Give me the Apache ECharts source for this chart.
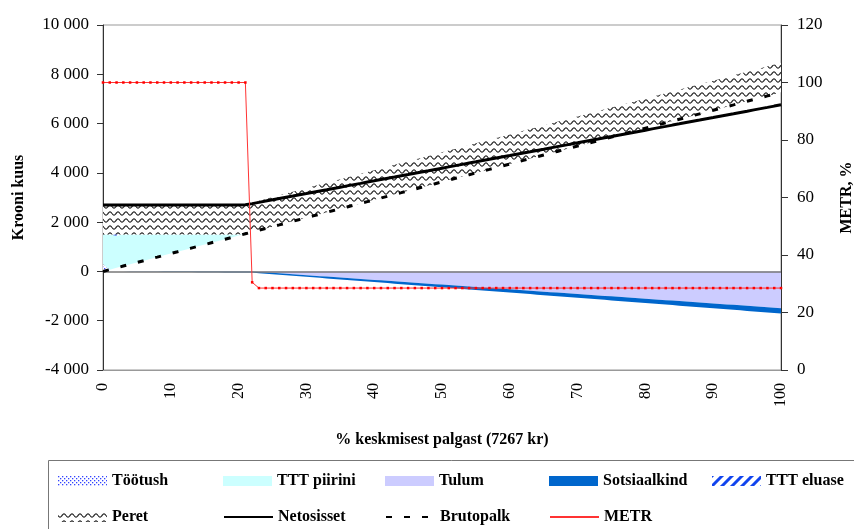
<!DOCTYPE html>
<html><head><meta charset="utf-8">
<script src="https://cdn.jsdelivr.net/npm/echarts@6/dist/echarts.min.js"></script>
<style>html,body{margin:0;padding:0;background:#fff}#c{width:854px;height:529px}</style>
</head><body><div id="c"></div>
<script>
// ---- data ----
const categories = ['0','1','2','3','4','5','6','7','8','9','10','11','12','13','14','15','16','17','18','19','20','21','22','23','24','25','26','27','28','29','30','31','32','33','34','35','36','37','38','39','40','41','42','43','44','45','46','47','48','49','50','51','52','53','54','55','56','57','58','59','60','61','62','63','64','65','66','67','68','69','70','71','72','73','74','75','76','77','78','79','80','81','82','83','84','85','86','87','88','89','90','91','92','93','94','95','96','97','98','99','100'];
const brutopalk = [0,73,145,218,291,363,436,509,581,654,727,799,872,945,1017,1090,1163,1235,1308,1381,1453,1526,1599,1671,1744,1817,1889,1962,2035,2107,2180,2253,2325,2398,2471,2543,2616,2689,2761,2834,2907,2979,3052,3125,3197,3270,3343,3415,3488,3561,3634,3706,3779,3852,3924,3997,4070,4142,4215,4288,4360,4433,4506,4578,4651,4724,4796,4869,4942,5014,5087,5160,5232,5305,5378,5450,5523,5596,5668,5741,5814,5886,5959,6032,6104,6177,6250,6322,6395,6468,6540,6613,6686,6758,6831,6904,6976,7049,7122,7194,7267];
const tootush = [300,0,0,0,0,0,0,0,0,0,0,0,0,0,0,0,0,0,0,0,0,0,0,0,0,0,0,0,0,0,0,0,0,0,0,0,0,0,0,0,0,0,0,0,0,0,0,0,0,0,0,0,0,0,0,0,0,0,0,0,0,0,0,0,0,0,0,0,0,0,0,0,0,0,0,0,0,0,0,0,0,0,0,0,0,0,0,0,0,0,0,0,0,0,0,0,0,0,0,0,0];
const tttPiirini = [1200,1427,1305,1282,1209,1137,1064,991,919,846,773,701,628,555,483,410,337,265,192,119,47,0,0,0,0,0,0,0,0,0,0,0,0,0,0,0,0,0,0,0,0,0,0,0,0,0,0,0,0,0,0,0,0,0,0,0,0,0,0,0,0,0,0,0,0,0,0,0,0,0,0,0,0,0,0,0,0,0,0,0,0,0,0,0,0,0,0,0,0,0,0,0,0,0,0,0,0,0,0,0,0];
const tttEluase = [0,0,50,0,0,0,0,0,0,0,0,0,0,0,0,0,0,0,0,0,0,0,0,0,0,0,0,0,0,0,0,0,0,0,0,0,0,0,0,0,0,0,0,0,0,0,0,0,0,0,0,0,0,0,0,0,0,0,0,0,0,0,0,0,0,0,0,0,0,0,0,0,0,0,0,0,0,0,0,0,0,0,0,0,0,0,0,0,0,0,0,0,0,0,0,0,0,0,0,0,0];
const peret = [1200,1200,1200,1200,1200,1200,1200,1200,1200,1200,1200,1200,1200,1200,1200,1200,1200,1200,1200,1200,1200,1200,1200,1200,1200,1200,1200,1200,1200,1200,1200,1200,1200,1200,1200,1200,1200,1200,1200,1200,1200,1200,1200,1200,1200,1200,1200,1200,1200,1200,1200,1200,1200,1200,1200,1200,1200,1200,1200,1200,1200,1200,1200,1200,1200,1200,1200,1200,1200,1200,1200,1200,1200,1200,1200,1200,1200,1200,1200,1200,1200,1200,1200,1200,1200,1200,1200,1200,1200,1200,1200,1200,1200,1200,1200,1200,1200,1200,1200,1200,1200];
const tulum = [0,0,0,0,0,0,0,0,0,0,0,0,0,0,0,0,0,0,0,0,0,0,0,-19,-38,-57,-76,-96,-115,-134,-153,-172,-191,-210,-229,-248,-267,-287,-306,-325,-344,-363,-382,-401,-420,-439,-458,-478,-497,-516,-535,-554,-573,-592,-611,-630,-649,-669,-688,-707,-726,-745,-764,-783,-802,-821,-840,-860,-879,-898,-917,-936,-955,-974,-993,-1012,-1031,-1051,-1070,-1089,-1108,-1127,-1146,-1165,-1184,-1203,-1222,-1242,-1261,-1280,-1299,-1318,-1337,-1356,-1375,-1394,-1413,-1433,-1452,-1471,-1490];
const sotsiaalkind = [0,-2,-4,-7,-9,-11,-13,-15,-17,-20,-22,-24,-26,-28,-31,-33,-35,-37,-39,-41,-44,-46,-48,-50,-52,-55,-57,-59,-61,-63,-65,-68,-70,-72,-74,-76,-78,-81,-83,-85,-87,-89,-92,-94,-96,-98,-100,-102,-105,-107,-109,-111,-113,-116,-118,-120,-122,-124,-126,-129,-131,-133,-135,-137,-140,-142,-144,-146,-148,-150,-153,-155,-157,-159,-161,-164,-166,-168,-170,-172,-174,-177,-179,-181,-183,-185,-188,-190,-192,-194,-196,-198,-201,-203,-205,-207,-209,-211,-214,-216,-218];
const netosisset = [2700,2700,2700,2700,2700,2700,2700,2700,2700,2700,2700,2700,2700,2700,2700,2700,2700,2700,2700,2700,2700,2705,2751,2802,2854,2905,2957,3008,3059,3111,3162,3214,3265,3316,3368,3419,3471,3522,3573,3625,3676,3728,3779,3830,3882,3933,3985,4036,4087,4139,4190,4242,4293,4344,4396,4447,4499,4550,4601,4653,4704,4756,4807,4858,4910,4961,5013,5064,5115,5167,5218,5270,5321,5372,5424,5475,5527,5578,5629,5681,5732,5784,5835,5886,5938,5989,6041,6092,6143,6195,6246,6298,6349,6400,6452,6503,6555,6606,6657,6709,6760];
const metr = [100,100,100,100,100,100,100,100,100,100,100,100,100,100,100,100,100,100,100,100,100,100,30.5,28.5,28.5,28.5,28.5,28.5,28.5,28.5,28.5,28.5,28.5,28.5,28.5,28.5,28.5,28.5,28.5,28.5,28.5,28.5,28.5,28.5,28.5,28.5,28.5,28.5,28.5,28.5,28.5,28.5,28.5,28.5,28.5,28.5,28.5,28.5,28.5,28.5,28.5,28.5,28.5,28.5,28.5,28.5,28.5,28.5,28.5,28.5,28.5,28.5,28.5,28.5,28.5,28.5,28.5,28.5,28.5,28.5,28.5,28.5,28.5,28.5,28.5,28.5,28.5,28.5,28.5,28.5,28.5,28.5,28.5,28.5,28.5,28.5,28.5,28.5,28.5,28.5,28.5];
const leftTicks = {min:-4000, max:10000, interval:2000};
const rightTicks = {min:0, max:120, interval:20};

// ---- fill patterns ----
function pat(w,h,draw){const c=document.createElement('canvas');c.width=w;c.height=h;const g=c.getContext('2d');g.fillStyle='#fff';g.fillRect(0,0,w,h);draw(g);return {image:c,repeat:'repeat'};}
const wavy = pat(8,7,g=>{g.strokeStyle='#222';g.lineWidth=1.2;g.beginPath();for(let x=0;x<=8;x+=0.5){const y=3.5+1.6*Math.sin(2*Math.PI*x/8);if(x===0)g.moveTo(x,y);else g.lineTo(x,y);}g.stroke();});
const dots = pat(4,4,g=>{g.fillStyle='#3344ff';g.fillRect(0,0,1.3,1.3);g.fillRect(2,2,1.3,1.3);});
const stripes = pat(10,10,g=>{g.strokeStyle='#1144ee';g.lineWidth=3;g.beginPath();g.moveTo(-2,12);g.lineTo(12,-2);g.moveTo(-7,7);g.lineTo(7,-7);g.moveTo(3,17);g.lineTo(17,3);g.stroke();});

const F = 'Liberation Serif';
function area(name, data, stack, color){
  return {name, type:'line', data, stack, symbol:'none', showSymbol:false, lineStyle:{width:0}, itemStyle:{color}, areaStyle:{color, opacity:1}, emphasis:{disabled:true}, z:2};
}
const chart = echarts.init(document.getElementById('c'));
const legendText = {fontFamily:F, fontSize:16, fontWeight:'bold', color:'#000'};
function leg(left, top, item){
  return {left, top, orient:'horizontal', itemWidth:49, itemHeight:10, itemGap:0, padding:0, textStyle:legendText, selectedMode:false, data:[item]};
}
chart.setOption({
  animation:false,
  backgroundColor:'#fff',
  grid:{left:103, right:73, top:25, bottom:159, outerBoundsMode:'none', containLabel:false, show:true, borderColor:'#999', borderWidth:1},
  xAxis:{type:'category', data:categories, boundaryGap:false,
    name:'% keskmisest palgast (7267 kr)', nameLocation:'middle', nameGap:62,
    nameTextStyle:{fontFamily:F, fontSize:16, fontWeight:'bold', color:'#000'},
    axisLine:{onZero:false, lineStyle:{color:'#999'}}, axisTick:{show:false},
    axisLabel:{rotate:90, margin:13, interval:9, fontFamily:F, fontSize:16, color:'#000'}, splitLine:{show:false}},
  yAxis:[
    {type:'value', min:leftTicks.min, max:leftTicks.max, interval:leftTicks.interval, position:'left',
     name:'Krooni kuus', nameLocation:'middle', nameGap:76, nameRotate:90,
     nameTextStyle:{fontFamily:F, fontSize:16, fontWeight:'bold', color:'#000'},
     axisLine:{show:true, lineStyle:{color:'#333'}}, axisTick:{show:true, length:6, lineStyle:{color:'#333'}},
     axisLabel:{margin:14, fontFamily:F, fontSize:17, color:'#000', formatter:v=>{const s=Math.abs(v).toString().replace(/\B(?=(\d{3})+(?!\d))/g,' ');return (v<0?'-':'')+s;}},
     splitLine:{show:false}},
    {type:'value', min:rightTicks.min, max:rightTicks.max, interval:rightTicks.interval, position:'right',
     name:'METR, %', nameLocation:'middle', nameGap:58, nameRotate:90,
     nameTextStyle:{fontFamily:F, fontSize:16, fontWeight:'bold', color:'#000'},
     axisLine:{show:true, lineStyle:{color:'#333'}}, axisTick:{show:true, length:7, lineStyle:{color:'#333'}},
     axisLabel:{margin:16, fontFamily:F, fontSize:17, color:'#000'}, splitLine:{show:false}}
  ],
  legend:[
    leg(58, 473, {name:'Töötush', icon:'rect'}),
    leg(58, 509, {name:'Peret', icon:'rect'}),
    leg(223, 473, {name:'TTT piirini', icon:'rect'}),
    leg(223, 509, {name:'Netosisset', itemStyle:{opacity:0}}),
    leg(385, 473, {name:'Tulum', icon:'rect'}),
    leg(385, 509, {name:'Brutopalk', itemStyle:{opacity:0}}),
    leg(549, 473, {name:'Sotsiaalkind', icon:'rect'}),
    leg(549, 509, {name:'METR', itemStyle:{opacity:0}}),
    leg(712, 473, {name:'TTT eluase', icon:'rect'})
  ],
  graphic:[{type:'rect', shape:{x:48.5, y:460.5, width:820, height:80}, style:{fill:null, stroke:'#777', lineWidth:1}, silent:true}],
  series:[
    {name:'base', type:'line', data:brutopalk, stack:'pos', symbol:'none', lineStyle:{width:0}, areaStyle:{opacity:0}, silent:true, z:1},
    area('Töötush', tootush, 'pos', dots),
    area('TTT piirini', tttPiirini, 'pos', '#ccffff'),
    area('TTT eluase', tttEluase, 'pos', stripes),
    area('Peret', peret, 'pos', wavy),
    Object.assign(area('Tulum', tulum, 'neg', '#ccccff'), {markLine:{silent:true, symbol:'none', label:{show:false}, lineStyle:{color:'#777', type:'solid', width:1.5}, data:[{yAxis:0}]}}),
    area('Sotsiaalkind', sotsiaalkind, 'neg', '#0066cc'),
    {name:'Netosisset', type:'line', data:netosisset, symbol:'none', lineStyle:{color:'#000', width:3}, itemStyle:{color:'#000'}, z:5},
    {name:'Brutopalk', type:'line', data:brutopalk, symbol:'none', lineStyle:{color:'#000', width:3, type:[6,12]}, itemStyle:{color:'#000'}, z:5},
    {name:'METR', type:'line', yAxisIndex:1, data:metr, symbol:'rect', symbolSize:2.5, lineStyle:{color:'#ff3333', width:1}, itemStyle:{color:'#ff0000'}, z:6}
  ]
});
</script></body></html>
